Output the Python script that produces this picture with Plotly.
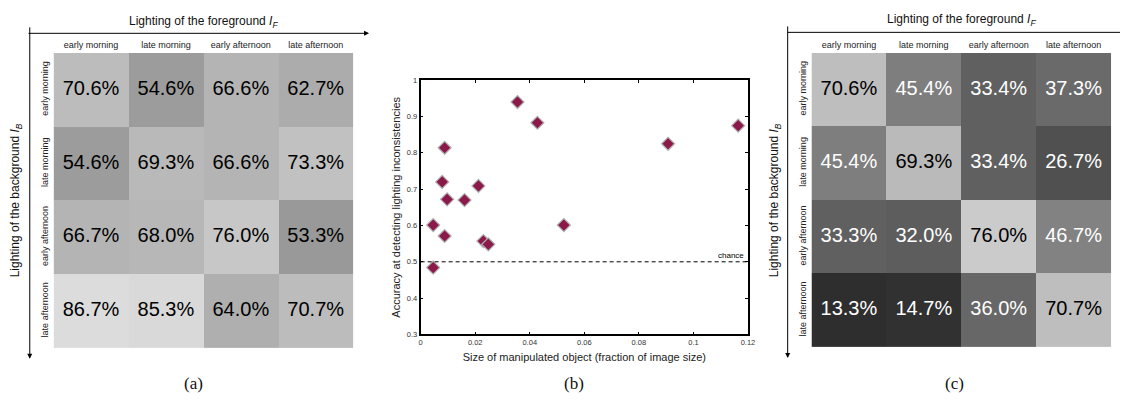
import plotly.graph_objects as go

# ---------------- data ----------------
times = ["early morning", "late morning", "early afternoon", "late afternoon"]

# panel (a): rows = background lighting, cols = foreground lighting
acc_a = [
    [70.6, 54.6, 66.6, 62.7],
    [54.6, 69.3, 66.6, 73.3],
    [66.7, 68.0, 76.0, 53.3],
    [86.7, 85.3, 64.0, 70.7],
]
# panel (c)
acc_c = [
    [70.6, 45.4, 33.4, 37.3],
    [45.4, 69.3, 33.4, 26.7],
    [33.3, 32.0, 76.0, 46.7],
    [13.3, 14.7, 36.0, 70.7],
]
# panel (b)
obj_size = [0.0355, 0.0428, 0.0907, 0.1164, 0.0088, 0.0079, 0.0212, 0.0097,
            0.0161, 0.0046, 0.0088, 0.0230, 0.0248, 0.0525, 0.0046]
accuracy = [0.940, 0.883, 0.825, 0.875, 0.814, 0.720, 0.709, 0.672,
            0.670, 0.601, 0.571, 0.557, 0.548, 0.601, 0.484]
chance = 0.5
x_ticks = [0, 0.02, 0.04, 0.06, 0.08, 0.1, 0.12]
y_ticks = [0.3, 0.4, 0.5, 0.6, 0.7, 0.8, 0.9, 1.0]

# ---------------- layout helpers ----------------
W, H = 1127, 401


def px(x):
    return x / W


def py(y):
    return 1 - y / H


SANS = "Liberation Sans, Arial, Helvetica, sans-serif"
SERIF = "Liberation Serif, Times New Roman, serif"
GRAY = [[0, "black"], [1, "white"]]

fig = go.Figure()


def add_matrix(vals, xa, ya, zmin, zmax, dark_text_threshold):
    fig.add_trace(go.Heatmap(
        z=vals, x=times, y=times, xaxis=xa, yaxis=ya,
        colorscale=GRAY, zmin=zmin, zmax=zmax, showscale=False,
        hoverinfo="skip"))
    xs, ys, txt, col = [], [], [], []
    for i, r in enumerate(times):
        for j, c in enumerate(times):
            v = vals[i][j]
            xs.append(c)
            ys.append(r)
            txt.append(f"{v:.1f}%")
            col.append("white" if v < dark_text_threshold else "black")
    fig.add_trace(go.Scatter(
        x=xs, y=ys, xaxis=xa, yaxis=ya, mode="text", text=txt,
        textposition="middle center",
        textfont=dict(family=SANS, size=20, color=col),
        hoverinfo="skip", showlegend=False))


add_matrix(acc_a, "x", "y", -23.3, 104.2, -1)
add_matrix(acc_c, "x3", "y3", -5.0, 96.6, 50)

fig.add_trace(go.Scatter(
    x=obj_size, y=accuracy, xaxis="x2", yaxis="y2", mode="markers",
    marker=dict(symbol="diamond", size=10, color="#8b1a4b",
                line=dict(color="#b0b0b0", width=1.2)),
    showlegend=False, hoverinfo="skip"))

cat_x = dict(type="category", categoryorder="array", categoryarray=times,
             side="top", showgrid=False, zeroline=False, showline=False,
             ticks="", tickfont=dict(family=SANS, size=9, color="#222"),
             ticklabelstandoff=2, fixedrange=True)
cat_y = dict(type="category", categoryorder="array", categoryarray=times[::-1],
             showgrid=False, zeroline=False, showline=False, ticks="",
             tickangle=-90, tickfont=dict(family=SANS, size=9, color="#222"),
             ticklabelstandoff=3, fixedrange=True)

fig.update_layout(
    width=W, height=H,
    margin=dict(l=0, r=0, t=0, b=0),
    paper_bgcolor="white", plot_bgcolor="white",
    showlegend=False,
    xaxis=dict(cat_x, domain=[px(52), px(354)], anchor="y"),
    yaxis=dict(cat_y, domain=[py(352), py(50)], anchor="x"),
    xaxis3=dict(cat_x, domain=[px(816), px(1118)], anchor="y3"),
    yaxis3=dict(cat_y, domain=[py(351), py(50)], anchor="x3"),
    xaxis2=dict(domain=[px(422), px(752)], anchor="y2", range=[0, 0.12],
                tickvals=x_ticks, ticktext=[f"{v:g}" for v in x_ticks],
                ticks="inside", ticklen=3, tickcolor="black",
                showline=True, linecolor="black", linewidth=1.7, mirror="ticks",
                showgrid=False, zeroline=False,
                tickfont=dict(family=SANS, size=7.5, color="#333"),
                title=dict(text="Size of manipulated object (fraction of image size)",
                           font=dict(family=SANS, size=11, color="#222"),
                           standoff=7)),
    yaxis2=dict(domain=[py(338), py(78)], anchor="x2", range=[0.3, 1.0],
                tickvals=y_ticks, ticktext=[f"{v:g}" for v in y_ticks],
                ticks="inside", ticklen=3, tickcolor="black",
                showline=True, linecolor="black", linewidth=1.7, mirror="ticks",
                showgrid=False, zeroline=False,
                tickfont=dict(family=SANS, size=7.5, color="#333"),
                title=dict(text="Accuracy at detecting lighting inconsistencies",
                           font=dict(family=SANS, size=11, color="#222"),
                           standoff=4)),
)

# chance line
fig.add_shape(type="line", xref="x2 domain", yref="y2", x0=0, x1=1,
              y0=chance, y1=chance,
              line=dict(color="black", width=1, dash="4px,3px"))

ann = []
ann.append(dict(xref="x2", yref="y2", x=x_ticks[-1], y=chance, text="chance",
                showarrow=False, xanchor="right", yanchor="bottom",
                font=dict(family=SANS, size=8, color="black"), xshift=-2))

title_f = "Lighting of the foreground <i>I<sub>F</sub></i>"
title_b = "Lighting of the background <i>I<sub>B</sub></i>"
for cx, ty, yx in [(203, 18, 15), (967, 16, 780)]:
    ann.append(dict(xref="paper", yref="paper", x=px(cx), y=py(ty), text=title_f,
                    showarrow=False, xanchor="center", yanchor="middle",
                    font=dict(family=SANS, size=12, color="#111")))
    ann.append(dict(xref="paper", yref="paper", x=px(yx), y=py(201), text=title_b,
                    showarrow=False, xanchor="center", yanchor="middle",
                    textangle=-90,
                    font=dict(family=SANS, size=12, color="#111")))

# arrows (a)
ann.append(dict(xref="paper", yref="paper", x=px(370), y=py(30), ax=28 - 370, ay=0,
                axref="pixel", ayref="pixel", text="", showarrow=True,
                arrowhead=2, arrowsize=1, arrowwidth=1, arrowcolor="black"))
ann.append(dict(xref="paper", yref="paper", x=px(28), y=py(363), ax=0, ay=30 - 363,
                axref="pixel", ayref="pixel", text="", showarrow=True,
                arrowhead=2, arrowsize=1, arrowwidth=1, arrowcolor="black"))
# arrows (c)
fig.add_shape(type="line", xref="paper", yref="paper", x0=px(792), x1=1,
              y0=py(29), y1=py(29), line=dict(color="black", width=1))
ann.append(dict(xref="paper", yref="paper", x=px(792), y=py(362), ax=0, ay=29 - 362,
                axref="pixel", ayref="pixel", text="", showarrow=True,
                arrowhead=2, arrowsize=1, arrowwidth=1, arrowcolor="black"))

for lab, cx in [("(a)", 193), ("(b)", 577), ("(c)", 960)]:
    ann.append(dict(xref="paper", yref="paper", x=px(cx), y=py(388), text=lab,
                    showarrow=False, xanchor="center", yanchor="middle",
                    font=dict(family=SERIF, size=17, color="#111")))

fig.update_layout(annotations=ann)

fig.write_html("out.html")
